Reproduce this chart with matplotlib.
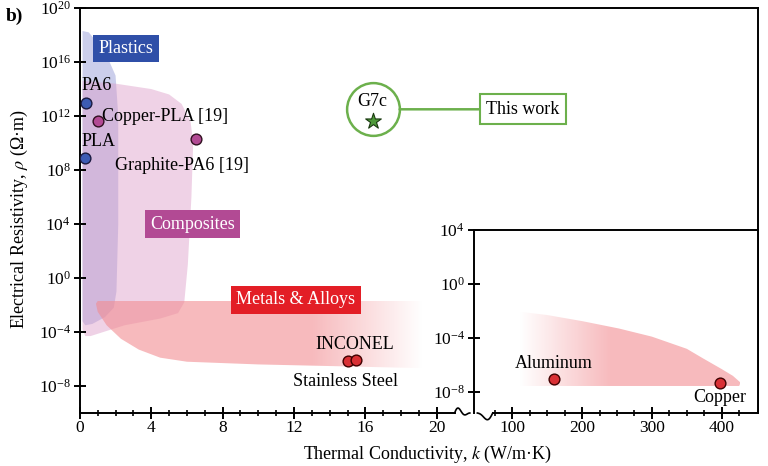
import numpy as np
import matplotlib
matplotlib.use('Agg')
import matplotlib.pyplot as plt
from matplotlib.patches import Polygon
from matplotlib.ticker import FixedLocator, NullLocator

plt.rcParams['font.family'] = 'Liberation Serif'
plt.rcParams['mathtext.fontset'] = 'stix'

# material points: thermal conductivity k (W/m.K), resistivity rho (ohm.m)
plastic_names = ['PA6', 'PLA']
plastic_k = [0.35, 0.3]
plastic_rho = [10**13.0, 10**8.9]

composite_names = ['Copper-PLA [19]', 'Graphite-PA6 [19]']
composite_k = [1.0, 6.5]
composite_rho = [10**11.6, 10**10.3]

alloy_names = ['Stainless Steel', 'INCONEL']
alloy_k = [15.0, 15.5]
alloy_rho = [10**-6.15, 10**-6.05]

metal_names = ['Aluminum', 'Copper']
metal_k = [160, 397]
metal_rho = [10**-7.05, 10**-7.35]

g7c_k = 16.4
g7c_rho = 10**11.6

# region outlines (k, log10 rho)
plastics_region = [(0.15, 18.3), (0.5, 18.2), (1.0, 17.4), (1.6, 16.2), (2.0, 15.0), (2.15, 12.0),
                   (2.15, 4.0), (2.05, -1.0), (1.9, -2.2), (1.4, -2.9), (0.7, -3.4), (0.3, -3.5),
                   (0.15, -3.2)]
composites_region = [(0.15, 14.6), (2.0, 14.4), (4.0, 14.0), (5.0, 13.6), (5.7, 12.9), (6.2, 11.6),
                     (6.35, 10.0), (6.25, 6.0), (6.05, 1.0), (5.85, -1.8), (5.5, -2.6), (4.5, -3.0),
                     (2.5, -3.5), (0.6, -4.3), (0.3, -4.3), (0.15, -3.8)]
alloys_region = [(1.0, -1.7), (20.0, -1.7), (20.0, -6.7), (15.0, -6.55), (10.0, -6.4), (6.0, -6.2),
                 (4.5, -5.9), (3.3, -5.3), (2.3, -4.5), (1.5, -3.5), (1.0, -2.5), (0.9, -1.9)]
metals_region = [(110, -2.05), (150, -2.3), (200, -2.75), (253, -3.3), (300, -3.9), (350, -4.8),
                 (373, -5.5), (400, -6.3), (416, -6.8), (427, -7.3), (425, -7.55), (110, -7.55)]

blue = '#3d5cb4'
magenta = '#b24a94'
red = '#d93035'
green = '#6cb04c'


def region_patch(ax, pts, **kw):
    xy = [(x, 10**y) for x, y in pts]
    p = Polygon(xy, closed=True, **kw)
    ax.add_patch(p)
    return p


def gradient_fill(ax, pts, rgb, x0, x1, a_start, a_end, x_full, x_fade):
    p = region_patch(ax, pts, facecolor='none', edgecolor='none')
    xs = np.linspace(x0, x1, 300)
    alpha = np.interp(xs, [x0, x_full, x_fade, x1], [a_start, a_start, a_end, a_end])
    img = np.zeros((1, len(xs), 4))
    img[..., :3] = rgb
    img[0, :, 3] = alpha
    ys = [y for _, y in pts]
    im = ax.imshow(img, extent=(x0, x1, 10**min(ys), 10**max(ys)), aspect='auto',
                   interpolation='bilinear', zorder=1)
    im.set_clip_path(p)


fig = plt.figure(figsize=(7.68, 4.66), dpi=100)
ax = fig.add_axes([0.104, 0.1137, 0.883, 0.869])
ax.set_yscale('log')
ax.set_xlim(0, 38)
ax.set_ylim(1e-10, 1e20)

region_patch(ax, plastics_region, facecolor='#a9aede', alpha=0.6, edgecolor='none', zorder=1)
region_patch(ax, composites_region, facecolor='#dc9cc8', alpha=0.45, edgecolor='none', zorder=1)
gradient_fill(ax, alloys_region, (0.95, 0.55, 0.57), 0.9, 20.0, 0.6, 0.0, 13.0, 19.2)

ax.scatter(plastic_k, plastic_rho, s=60, c=blue, edgecolors='#1a1a40', linewidths=1, zorder=5)
ax.scatter(composite_k, composite_rho, s=60, c=magenta, edgecolors='#301020', linewidths=1, zorder=5)
ax.scatter(alloy_k, alloy_rho, s=60, c=red, edgecolors='#400000', linewidths=1, zorder=5)
ax.scatter([g7c_k], [g7c_rho], s=140, marker='*', c='#4f9a3a', edgecolors='#1a3a10',
           linewidths=0.8, zorder=5)

fs = 13
ax.text(0.1, 10**14.3, plastic_names[0], fontsize=fs, ha='left', va='center')
ax.text(0.1, 10**10.1, plastic_names[1], fontsize=fs, ha='left', va='center')
ax.text(1.25, 10**12.0, composite_names[0], fontsize=fs, ha='left', va='center')
ax.text(1.95, 10**8.3, composite_names[1], fontsize=fs, ha='left', va='center')
ax.text(15.4, 10**-4.9, alloy_names[1], fontsize=fs, ha='center', va='center')
ax.text(14.9, 10**-7.7, alloy_names[0], fontsize=fs, ha='center', va='center')

# G7c callout
circle_rho = g7c_rho * 10**0.9
ax.plot([g7c_k], [circle_rho], 'o', ms=38, mfc='none', mec=green, mew=1.8, zorder=4)
ax.text(g7c_k, g7c_rho * 10**1.45, 'G7c', fontsize=fs, ha='center', va='center')
ax.annotate('This work', xy=(g7c_k, circle_rho), xytext=(108, 0), textcoords='offset points',
            fontsize=fs, ha='center', va='center',
            bbox=dict(boxstyle='square,pad=0.35', fc='white', ec=green, lw=1.5),
            arrowprops=dict(arrowstyle='-', color=green, lw=1.8, shrinkA=0, shrinkB=19.5))

# region labels
ax.text(2.6, 10**17.0, 'Plastics', fontsize=fs, color='white', ha='center', va='center',
        bbox=dict(boxstyle='square,pad=0.3', fc='#2f4fa8', ec='none'), zorder=6)
ax.text(6.3, 10**4.0, 'Composites', fontsize=fs, color='white', ha='center', va='center',
        bbox=dict(boxstyle='square,pad=0.3', fc=magenta, ec='none'), zorder=6)
ax.text(12.1, 10**-1.6, 'Metals & Alloys', fontsize=fs, color='white', ha='center', va='center',
        bbox=dict(boxstyle='square,pad=0.3', fc='#e31e26', ec='none'), zorder=6)

ax.xaxis.set_major_locator(FixedLocator([0, 4, 8, 12, 16, 20]))
ax.xaxis.set_minor_locator(FixedLocator([1, 2, 3, 5, 6, 7, 9, 10, 11, 13, 14, 15, 17, 18, 19]))
ax.yaxis.set_major_locator(FixedLocator([10.0**e for e in range(-8, 21, 4)]))
ax.yaxis.set_minor_locator(NullLocator())
ax.tick_params(axis='both', which='major', direction='inout', length=9, width=1.4, labelsize=12.5)
ax.tick_params(axis='x', which='minor', direction='inout', length=5, width=1.2)
ax.tick_params(axis='y', pad=2)
ax.tick_params(axis='x', pad=0.5)
for s in ax.spines.values():
    s.set_linewidth(1.4)
ax.spines['bottom'].set_bounds(0, 21.0)

# axis break on main axis
t = np.linspace(0, 1, 40)
bx = 21.0 + 0.85 * t
by = 0.004 * np.sin(2 * np.pi * t) * (1 - t) * 4
ax.plot(bx, by, color='black', lw=1.2, transform=ax.get_xaxis_transform(), clip_on=False)

# inset for high conductivity metals
ins = fig.add_axes([0.617, 0.1137, 0.370, 0.393])
ins.set_yscale('log')
ins.set_xlim(45, 452)
ins.set_ylim(10**-9.55, 1e4)
gradient_fill(ins, metals_region, (0.95, 0.55, 0.57), 110, 427, 0.0, 0.6, 110, 240)
ins.scatter(metal_k, metal_rho, s=60, c=red, edgecolors='#400000', linewidths=1, zorder=5)
ins.text(160, 10**-5.9, metal_names[0], fontsize=fs, ha='center', va='center')
ins.text(397, 10**-8.4, metal_names[1], fontsize=fs, ha='center', va='center')
ins.xaxis.set_major_locator(FixedLocator([100, 200, 300, 400]))
ins.xaxis.set_minor_locator(FixedLocator([75, 125, 150, 175, 225, 250, 275, 325, 350, 375, 425]))
ins.yaxis.set_major_locator(FixedLocator([1e4, 1e0, 1e-4, 1e-8]))
ins.yaxis.set_minor_locator(NullLocator())
ins.tick_params(axis='both', which='major', direction='inout', length=9, width=1.4, labelsize=12.5)
ins.tick_params(axis='x', which='minor', direction='inout', length=5, width=1.2)
ins.tick_params(axis='y', pad=2)
ins.tick_params(axis='x', pad=0.5)
for s in ins.spines.values():
    s.set_linewidth(1.4)
ins.spines['bottom'].set_bounds(72, 452)
bx2 = 50 + 22 * t
by2 = -0.03 * np.sin(np.pi * t) + 0.012 * np.sin(2 * np.pi * t)
ins.plot(bx2, by2, color='black', lw=1.2, transform=ins.get_xaxis_transform(), clip_on=False)

fig.text(0.557, 0.024, 'Thermal Conductivity, $k$ (W/m·K)', fontsize=13, ha='center', va='center')
fig.text(0.012, 0.53, r'Electrical Resistivity, $\rho$ (Ω·m)', fontsize=13, rotation=90,
         ha='left', va='center')
fig.text(0.008, 0.965, 'b)', fontsize=14, fontweight='bold', ha='left', va='center')

fig.savefig('out.png', dpi=100)
